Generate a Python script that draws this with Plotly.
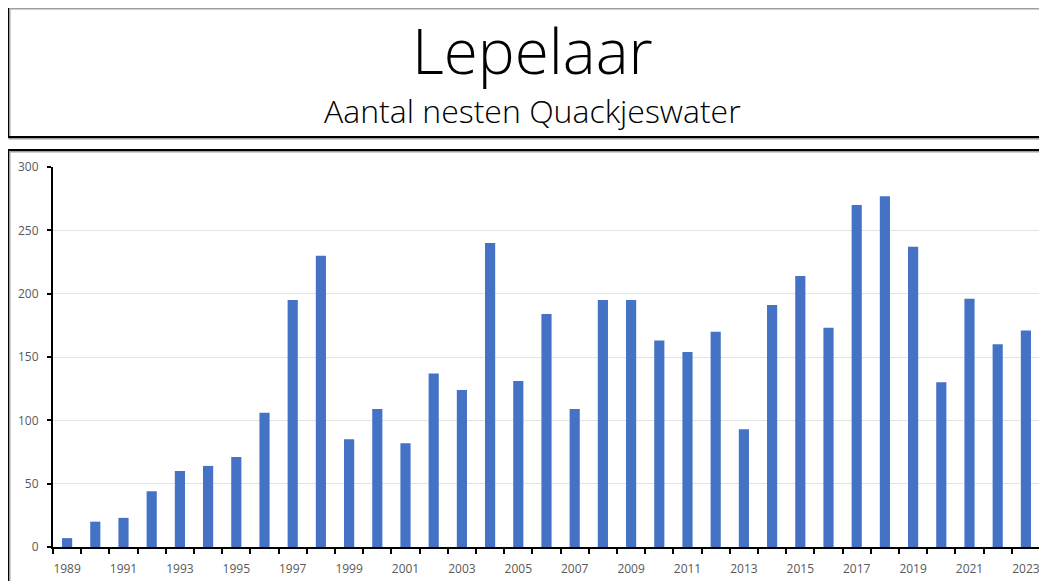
import plotly.graph_objects as go

years = list(range(1989, 2024))
nests = [7, 20, 23, 44, 60, 64, 71, 106, 195, 230, 85, 109, 82, 137, 124, 240,
         131, 184, 109, 195, 195, 163, 154, 170, 93, 191, 214, 173, 270, 277,
         237, 130, 196, 160, 171]
label_years = list(range(1989, 2024, 2))
title_text = "Lepelaar"
subtitle_text = "Aantal nesten Quackjeswater"

# page has an 8px body margin; work in target-pixel coordinates and subtract it
OFF = 8
W, H = 1047 - OFF, 581 - OFF
PL, PR, PT, PB = 53, 1040, 167, 547  # plot-area edges in target pixels
L = PL - OFF
R = W - (PR - OFF)
T = PT - OFF
B = H - (PB - OFF)
PW, PH = W - L - R, H - T - B


def px_x(x):
    return (x - OFF - L) / PW


def px_y(y):
    return (H - B - (y - OFF)) / PH


fig = go.Figure(go.Bar(x=years, y=nests, marker=dict(color="#4472C4", line=dict(width=0))))

shapes = []
for (x0, y0, x1, y1) in [(8, 7, 1060, 137), (8, 150, 1060, 600)]:
    shapes.append(dict(type="rect", xref="paper", yref="paper",
                       x0=px_x(x0 + 1.5), x1=px_x(x1 + 1.5), y0=px_y(y0 + 1.5), y1=px_y(y1 + 1.5),
                       line=dict(color="#a0a0a0", width=2), fillcolor="rgba(0,0,0,0)", layer="below"))
    shapes.append(dict(type="rect", xref="paper", yref="paper",
                       x0=px_x(x0), x1=px_x(x1), y0=px_y(y0), y1=px_y(y1),
                       line=dict(color="#000000", width=2), fillcolor="rgba(0,0,0,0)", layer="below"))

fig.update_layout(
    width=W, height=H,
    margin=dict(l=L, r=R, t=T, b=B, autoexpand=False),
    paper_bgcolor="white", plot_bgcolor="white",
    bargap=0.64,
    showlegend=False,
    shapes=shapes,
    annotations=[
        dict(text=title_text, xref="paper", yref="paper", x=px_x(532), y=px_y(50),
             xanchor="center", yanchor="middle", showarrow=False,
             font=dict(family="Open Sans", size=62, color="#000000", weight=300)),
        dict(text=subtitle_text, xref="paper", yref="paper", x=px_x(532), y=px_y(110),
             xanchor="center", yanchor="middle", showarrow=False,
             font=dict(family="Open Sans", size=32, color="#000000", weight=300)),
    ],
    font=dict(family="Open Sans", color="#595959", size=12),
)

fig.update_xaxes(
    range=[1988.5, 2023.5],
    tickmode="array", tickvals=label_years, ticktext=[str(y) for y in label_years],
    ticks="", showgrid=False, zeroline=False,
    showline=True, linecolor="#000000", linewidth=2,
    ticklabelstandoff=10,
    tickfont=dict(family="Open Sans", size=12, color="#595959"),
    minor=dict(tickmode="linear", tick0=1988.5, dtick=1, ticks="outside",
               ticklen=5, tickwidth=2, tickcolor="#000000", showgrid=False),
    fixedrange=True,
)
fig.update_yaxes(
    range=[0, 300], dtick=50, tick0=0,
    ticks="outside", ticklen=4, tickwidth=2, tickcolor="#000000",
    showline=True, linecolor="#000000", linewidth=2,
    showgrid=True, gridcolor="#e3e3e3", gridwidth=1, zeroline=False,
    ticklabelstandoff=6,
    tickfont=dict(family="Open Sans", size=12, color="#595959"),
    fixedrange=True,
)

fig.write_html("out.html")
